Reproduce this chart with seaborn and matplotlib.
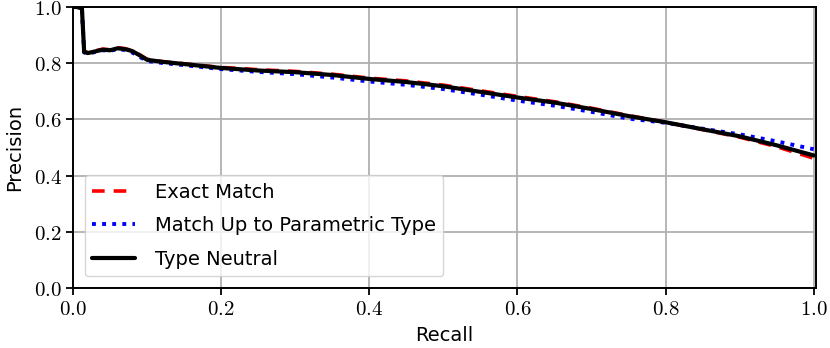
import numpy as np
import pandas as pd
import matplotlib
matplotlib.use("Agg")
import matplotlib.pyplot as plt
import seaborn as sns
from matplotlib.ticker import FuncFormatter

# recall grid shared by the three curves
recall = [0.0, 0.005, 0.012, 0.015, 0.02, 0.03, 0.04, 0.05, 0.06, 0.07, 0.08,
          0.09, 0.10, 0.12, 0.15, 0.20, 0.25, 0.30, 0.35, 0.40, 0.45, 0.50,
          0.55, 0.60, 0.65, 0.70, 0.75, 0.80, 0.85, 0.90, 0.95, 1.0]

prec_exact = [1.0, 1.0, 0.995, 0.842, 0.838, 0.844, 0.850, 0.848, 0.855, 0.852,
              0.845, 0.830, 0.814, 0.806, 0.798, 0.785, 0.777, 0.771, 0.761,
              0.747, 0.737, 0.722, 0.702, 0.682, 0.663, 0.640, 0.614, 0.590,
              0.564, 0.537, 0.503, 0.462]

prec_param = [1.0, 1.0, 0.993, 0.838, 0.834, 0.840, 0.846, 0.844, 0.850, 0.847,
              0.838, 0.822, 0.808, 0.801, 0.793, 0.779, 0.769, 0.761, 0.749,
              0.735, 0.723, 0.708, 0.688, 0.667, 0.649, 0.627, 0.603, 0.588,
              0.567, 0.547, 0.522, 0.494]

prec_neutral = [1.0, 1.0, 0.995, 0.840, 0.836, 0.842, 0.848, 0.846, 0.853, 0.850,
                0.843, 0.828, 0.812, 0.805, 0.797, 0.783, 0.774, 0.768, 0.758,
                0.744, 0.733, 0.718, 0.698, 0.678, 0.660, 0.637, 0.612, 0.590,
                0.565, 0.540, 0.508, 0.472]

labels = ["Exact Match", "Match Up to Parametric Type", "Type Neutral"]

sns.set_style("whitegrid")
plt.rcParams["font.family"] = ["DejaVu Sans"]
plt.rcParams["mathtext.fontset"] = "cm"
plt.rcParams["font.size"] = 14
plt.rcParams["text.color"] = "black"
plt.rcParams["axes.labelcolor"] = "black"
plt.rcParams["xtick.color"] = "black"
plt.rcParams["ytick.color"] = "black"

fig, ax = plt.subplots(figsize=(8.3, 3.48), dpi=100)
fig.subplots_adjust(left=0.088, right=0.983, top=0.98, bottom=0.172)

sns.lineplot(x=recall, y=prec_exact, ax=ax, color="red", linestyle=(0, (3.5, 2.5)),
             linewidth=2.6, label=labels[0])
sns.lineplot(x=recall, y=prec_param, ax=ax, color="blue", linestyle=(0, (1, 1.6)),
             linewidth=2.8, label=labels[1])
sns.lineplot(x=recall, y=prec_neutral, ax=ax, color="black", linewidth=3.0,
             label=labels[2])

ax.set_xlim(0, 1.003)
ax.set_ylim(0, 1.0)
ax.set_xticks(np.arange(0, 1.01, 0.2))
ax.set_yticks(np.arange(0, 1.01, 0.2))
fmt = FuncFormatter(lambda v, p: f"${v:.1f}$")
ax.xaxis.set_major_formatter(fmt)
ax.yaxis.set_major_formatter(fmt)
ax.tick_params(axis="both", direction="out", length=5, width=1.3, color="black",
               labelsize=15, pad=3, bottom=True, left=True)
ax.grid(True, color="#b0b0b0", linewidth=1.3)
for s in ax.spines.values():
    s.set_color("black")
    s.set_linewidth(1.4)

ax.set_xlabel("Recall", fontsize=14, labelpad=5)
ax.set_ylabel("Precision", fontsize=14, labelpad=7)

leg = ax.legend(loc="lower left", fontsize=14, frameon=True, fancybox=True,
                framealpha=0.8, edgecolor="#cccccc", handlelength=2.2,
                handletextpad=1.0, labelspacing=0.75, borderaxespad=0.6)

fig.savefig("out.png", dpi=100)
